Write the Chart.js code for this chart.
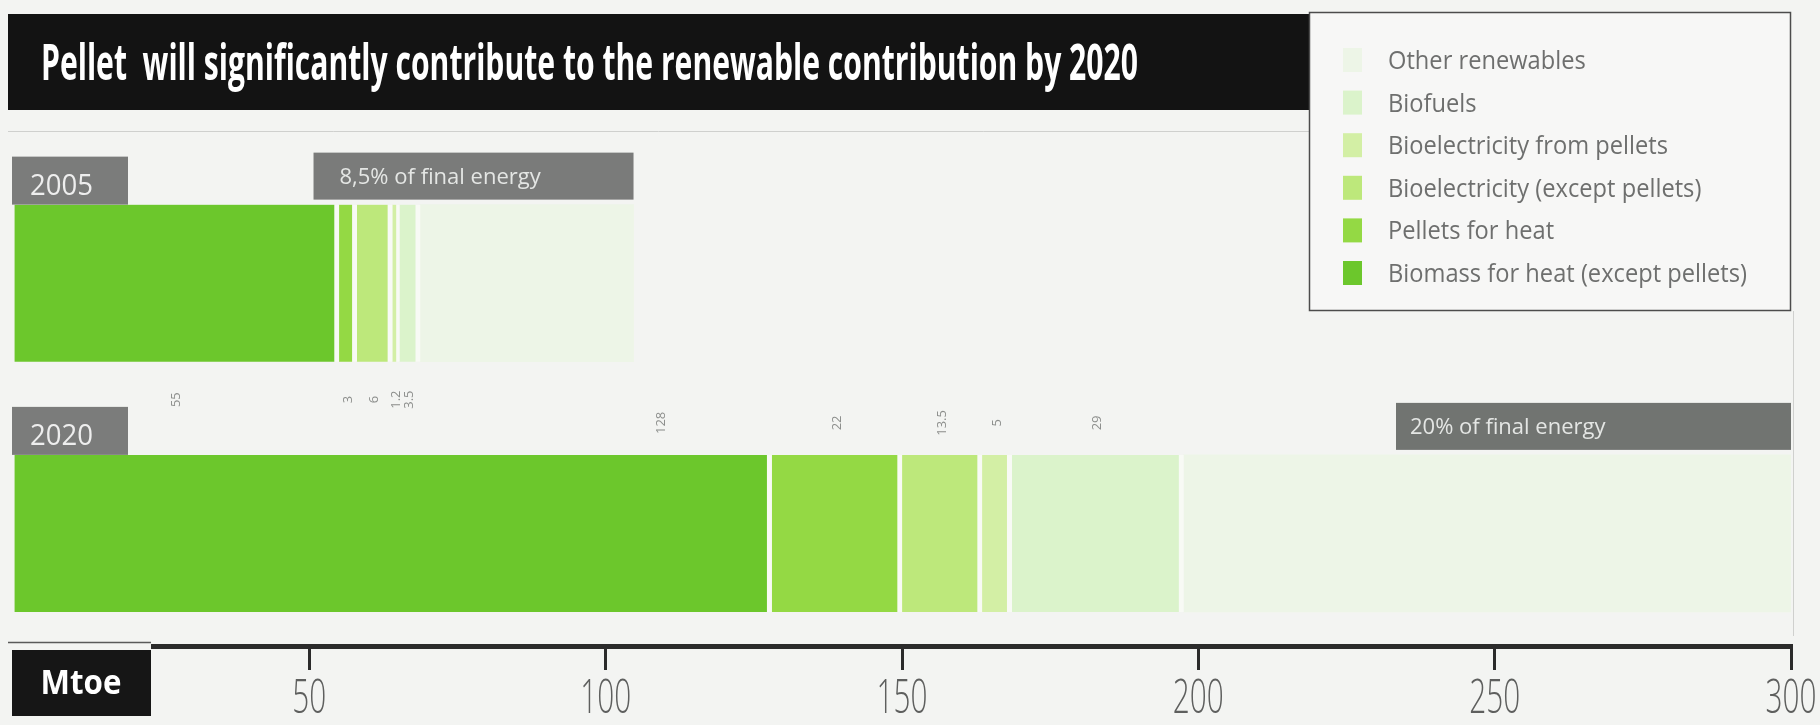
<!DOCTYPE html>
<html>
<head>
<meta charset="utf-8">
<script src="https://cdn.jsdelivr.net/npm/chart.js"></script>
<style>
  html, body { margin: 0; padding: 0; background: #f3f4f2; overflow: hidden; }
  canvas { display: block; }
</style>
</head>
<body>
<canvas id="chart" width="1820" height="725"></canvas>
<script>
// Renewable energy in Mtoe, by source, for the two reference years
const years = ['2005', '2020'];
const seriesNames = [
  'Biomass for heat (except pellets)',
  'Pellets for heat',
  'Bioelectricity (except pellets)',
  'Bioelectricity from pellets',
  'Biofuels',
  'Other renewables'
];
const biomassHeat     = [55, 128];
const pelletsHeat     = [3, 22];
const bioelecOther    = [6, 13.5];
const bioelecPellets  = [1.2, 5];
const biofuels        = [3.5, 29];
const otherRenewables = [36, 102.5];
const shareLabels = ['8,5% of final energy', '20% of final energy'];
const chartTitle = 'Pellet  will significantly contribute to the renewable contribution by 2020';
const unitLabel = 'Mtoe';
const axisMax = 300;
const tickStep = 50;

const seriesValues = [biomassHeat, pelletsHeat, bioelecOther, bioelecPellets, biofuels, otherRenewables];
const seriesColors = ['#6cc72c', '#94d944', '#bde87b', '#d3efa5', '#dbf3cb', '#edf5e7'];
const PAGE_BG = '#f3f4f2';

function drawText(ctx, txt, x, y, font, color, sx, align) {
  ctx.save();
  ctx.font = font;
  ctx.fillStyle = color;
  ctx.textBaseline = 'alphabetic';
  ctx.textAlign = 'left';
  const w = ctx.measureText(txt).width * sx;
  const x0 = align === 'center' ? x - w / 2 : align === 'right' ? x - w : x;
  ctx.translate(x0, y);
  ctx.scale(sx, 1);
  ctx.fillText(txt, 0, 0);
  ctx.restore();
}

function fitScale(ctx, txt, font, width) {
  ctx.save();
  ctx.font = font;
  const w = ctx.measureText(txt).width;
  ctx.restore();
  return width / w;
}

const decorations = {
  id: 'decorations',
  beforeDraw(chart) {
    const ctx = chart.ctx;
    ctx.save();
    ctx.fillStyle = PAGE_BG;
    ctx.fillRect(0, 0, chart.width, chart.height);
    // title band
    ctx.fillStyle = '#131313';
    ctx.fillRect(8, 14, 1301, 96);
    // thin rules framing the plot
    ctx.strokeStyle = '#cfd0ce';
    ctx.lineWidth = 1;
    ctx.beginPath();
    ctx.moveTo(8, 131.5); ctx.lineTo(1309, 131.5);
    ctx.moveTo(chart.chartArea.right + 2.5, 311); ctx.lineTo(chart.chartArea.right + 2.5, 636);
    ctx.stroke();
    ctx.restore();
    const tFont = 'bold 50px "Open Sans", sans-serif';
    drawText(ctx, chartTitle, 41, 80, tFont, '#ffffff', fitScale(ctx, chartTitle, tFont, 1097), 'left');
  },
  afterDatasetsDraw(chart) {
    const ctx = chart.ctx;
    const xs = chart.scales.x;
    years.forEach((yr, i) => {
      const bar = chart.getDatasetMeta(0).data[i];
      const top = bar.y - bar.height / 2;
      const bottom = bar.y + bar.height / 2;
      // year tab
      ctx.fillStyle = '#7b7c7b';
      ctx.fillRect(12, top - 48, 116, 48);
      drawText(ctx, yr, 30, top - 10, '29px "Open Sans", sans-serif', '#eeeeee', 0.95, 'left');
      // share of final energy tab, ending at the stack total
      const total = seriesValues.reduce((a, s) => a + s[i], 0);
      const right = xs.getPixelForValue(total);
      const w = i === 0 ? 320 : 395;
      ctx.fillStyle = i === 0 ? '#7a7b7a' : '#717471';
      ctx.fillRect(right - w, top - 52, w, 47);
      drawText(ctx, shareLabels[i], right - w + (i === 0 ? 26 : 14), top - 21,
        '22px "Open Sans", sans-serif', '#e4e6e4', 1, 'left');
      // small rotated values per segment
      let acc = 0;
      seriesValues.forEach((vals, s) => {
        const v = vals[i];
        const start = acc;
        acc += v;
        if (s === seriesValues.length - 1) return;
        // the wide 2020 heat segment carries its value near its right end
        const cx = (i === 1 && s === 0)
          ? xs.getPixelForValue(acc) - 110
          : xs.getPixelForValue(start + v / 2);
        const cy = i === 0 ? bottom + 38 : top - 32;
        ctx.save();
        ctx.translate(cx, cy);
        ctx.rotate(-Math.PI / 2);
        ctx.font = '13px "Open Sans", sans-serif';
        ctx.fillStyle = '#8c8e8c';
        ctx.textAlign = 'center';
        ctx.textBaseline = 'middle';
        ctx.fillText(String(v), 0, 0);
        ctx.restore();
      });
    });
  },
  afterDraw(chart) {
    const ctx = chart.ctx;
    const xs = chart.scales.x;
    const axisY = chart.chartArea.bottom;
    // unit tab on the left end of the axis
    ctx.save();
    ctx.fillStyle = PAGE_BG;
    ctx.fillRect(0, axisY - 6, 151, 10);
    ctx.strokeStyle = '#5a5a5a';
    ctx.lineWidth = 1.5;
    ctx.beginPath();
    ctx.moveTo(8, axisY - 3.5); ctx.lineTo(151, axisY - 3.5);
    ctx.stroke();
    ctx.fillStyle = '#161616';
    ctx.fillRect(12, axisY + 4, 139, 66);
    ctx.restore();
    drawText(ctx, unitLabel, 81, axisY + 48, 'bold 34px "Open Sans", sans-serif', '#ffffff', 0.92, 'center');
    // tick labels from the axis ticks
    xs.ticks.forEach(t => {
      if (t.value <= 0) return;
      drawText(ctx, String(t.value), xs.getPixelForValue(t.value), axisY + 67,
        '300 48px "Open Sans", sans-serif', '#5e5f5e', 0.62, 'center');
    });
    // legend box
    ctx.save();
    ctx.fillStyle = '#f7f7f6';
    ctx.fillRect(1309, 12, 482, 299);
    ctx.strokeStyle = '#4c4c4c';
    ctx.lineWidth = 1.5;
    ctx.strokeRect(1309.5, 12.5, 481, 298);
    ctx.restore();
    const lFont = '26px "Open Sans", sans-serif';
    const lScale = fitScale(ctx, seriesNames[0], lFont, 359);
    const order = chart.data.datasets.map((d, k) => k).reverse();
    order.forEach((k, row) => {
      const ds = chart.data.datasets[k];
      const cy = 60 + row * 42.6;
      ctx.fillStyle = ds.backgroundColor;
      ctx.fillRect(1343, cy - 12, 19, 24);
      drawText(ctx, ds.label, 1388, cy + 9, lFont, '#6e6f6e', lScale, 'left');
    });
  }
};

new Chart(document.getElementById('chart'), {
  type: 'bar',
  data: {
    datasets: seriesValues.map((vals, s) => ({
      label: seriesNames[s],
      data: vals.map((v, i) => ({ x: v, y: i })),
      backgroundColor: seriesColors[s],
      borderColor: '#f8faf5',
      borderWidth: s < seriesValues.length - 1 ? { top: 0, bottom: 0, left: 0, right: 5 } : 0,
      borderSkipped: false,
      barThickness: 157
    }))
  },
  options: {
    indexAxis: 'y',
    responsive: false,
    animation: false,
    devicePixelRatio: 1,
    layout: { padding: { top: 158, left: 13, right: 29, bottom: 0 } },
    plugins: { legend: { display: false }, tooltip: { enabled: false } },
    scales: {
      x: {
        type: 'linear', stacked: true, min: 0, max: axisMax, position: 'bottom',
        ticks: { display: false, stepSize: tickStep },
        grid: { display: true, drawOnChartArea: false, drawTicks: true, tickLength: 24, color: '#2b2b2b', lineWidth: 3 },
        border: { display: true, color: '#2b2b2b', width: 5 },
        afterFit(scale) { scale.height = 79; }
      },
      y: {
        type: 'linear', stacked: true, min: -0.5, max: 1.45, reverse: true, offset: false, display: false
      }
    }
  },
  plugins: [decorations]
});
</script>
</body>
</html>
